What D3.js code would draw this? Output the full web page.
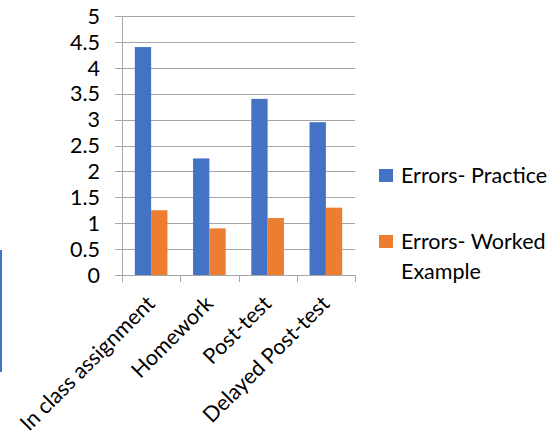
<!DOCTYPE html>
<html>
<head>
<meta charset="utf-8">
<script src="https://cdn.jsdelivr.net/npm/d3@7"></script>
<style>
  html, body { margin: 0; padding: 0; background: #fff; }
  svg { display: block; }
  text { font-family: Lato, "Open Sans", sans-serif; fill: #000; }
</style>
</head>
<body>
<svg id="chart" width="556" height="441"></svg>
<script>
// Categories and series
const categories = ["In class assignment", "Homework", "Post-test", "Delayed Post-test"];
const seriesNames = ["Errors- Practice", "Errors- Worked Example"];
const practice = [4.4, 2.25, 3.4, 2.95];
const worked = [1.25, 0.9, 1.1, 1.3];
const yTicks = [0, 0.5, 1, 1.5, 2, 2.5, 3, 3.5, 4, 4.5, 5];
const colors = ["#4472C4", "#ED7D31"];

const svg = d3.select("#chart");
const plot = { left: 122, right: 355, top: 16, bottom: 275 };
const fontSize = 21.5;

const x0 = d3.scaleBand().domain(categories).range([plot.left, plot.right]).paddingInner(0).paddingOuter(0);
const x1 = d3.scaleBand().domain(seriesNames).range([0, x0.bandwidth()]).paddingInner(0).paddingOuter(0.785);
const y = d3.scaleLinear().domain([0, 5]).range([plot.bottom, plot.top]);

const grid = "#a6a6a6";

// small blue edge line on the left
svg.append("rect").attr("x", 0).attr("y", 250).attr("width", 2).attr("height", 122).attr("fill", "#4472C4");

// horizontal gridlines with outer ticks
svg.append("g").selectAll("line").data(yTicks).join("line")
  .attr("x1", plot.left - 7).attr("x2", plot.right)
  .attr("y1", d => Math.round(y(d)) + 0.5).attr("y2", d => Math.round(y(d)) + 0.5)
  .attr("stroke", grid).attr("stroke-width", 1);

// y tick labels
svg.append("g").selectAll("text").data(yTicks).join("text")
  .attr("x", 100).attr("y", d => y(d))
  .attr("dy", "0.36em")
  .attr("text-anchor", "end")
  .attr("font-size", fontSize)
  .text(d => d);

// vertical axis line
svg.append("line")
  .attr("x1", plot.left + 0.5).attr("x2", plot.left + 0.5)
  .attr("y1", plot.top).attr("y2", plot.bottom + 7)
  .attr("stroke", grid);

// category boundary ticks
const bounds = categories.map(c => x0(c)).concat([plot.right]);
svg.append("g").selectAll("line").data(bounds).join("line")
  .attr("x1", d => Math.round(d) + 0.5).attr("x2", d => Math.round(d) + 0.5)
  .attr("y1", plot.bottom).attr("y2", plot.bottom + 7)
  .attr("stroke", grid);

// bars
const rows = categories.map((c, i) => ({ cat: c, vals: [practice[i], worked[i]] }));
svg.append("g").selectAll("g").data(rows).join("g")
  .attr("transform", d => `translate(${x0(d.cat)},0)`)
  .selectAll("rect").data(d => d.vals.map((v, j) => ({ v, s: seriesNames[j], j })))
  .join("rect")
  .attr("x", d => x1(d.s))
  .attr("width", x1.bandwidth())
  .attr("y", d => y(d.v))
  .attr("height", d => y(0) - y(d.v))
  .attr("fill", d => colors[d.j]);

// rotated category labels
svg.append("g").selectAll("text").data(categories).join("text")
  .attr("transform", d => `translate(${x0(d) + x0.bandwidth() / 2 + 5},${plot.bottom + 30}) rotate(-45)`)
  .attr("text-anchor", "end")
  .attr("font-size", fontSize)
  .text(d => d);

// legend
const legend = svg.append("g");
legend.append("rect").attr("x", 379).attr("y", 169).attr("width", 14).attr("height", 13).attr("fill", colors[0]);
legend.append("text").attr("x", 401).attr("y", 183).attr("font-size", fontSize).text("Errors- Practice");
legend.append("rect").attr("x", 379).attr("y", 235).attr("width", 14).attr("height", 13).attr("fill", colors[1]);
legend.append("text").attr("x", 401).attr("y", 249).attr("font-size", fontSize).text("Errors- Worked");
legend.append("text").attr("x", 401).attr("y", 279).attr("font-size", fontSize).text("Example");
</script>
</body>
</html>
